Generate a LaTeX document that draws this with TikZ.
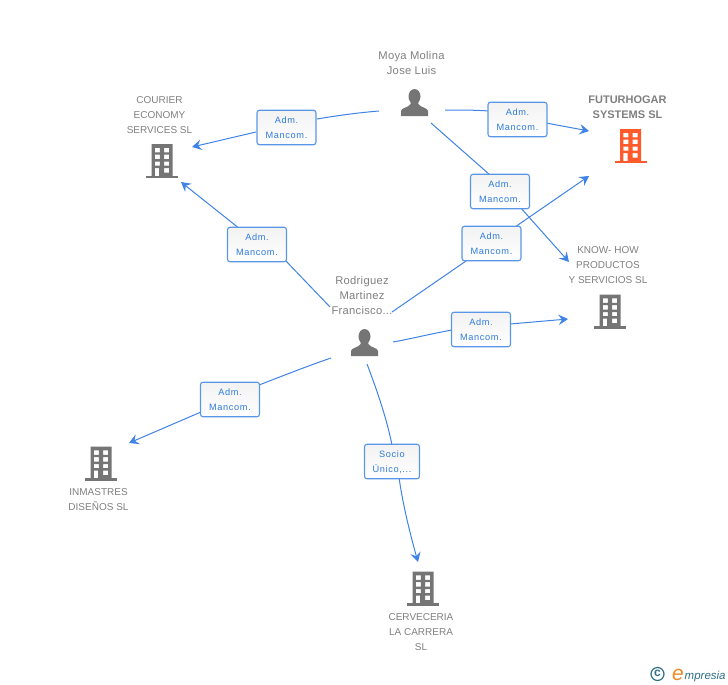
\documentclass[tikz,border=0pt]{standalone}
\usepackage{fontspec}
\setmainfont{Liberation Sans}
\usetikzlibrary{arrows.meta}
\definecolor{edgeblue}{HTML}{3F83E6}
\definecolor{boxblue}{HTML}{5A96E8}
\definecolor{labelblue}{HTML}{2F7BDD}
\definecolor{icongray}{HTML}{757575}
\definecolor{textgray}{HTML}{808080}
\definecolor{hogar}{HTML}{FF5A2B}
\definecolor{logoteal}{HTML}{2F6F86}
\definecolor{logoorange}{HTML}{F08A24}
\tikzset{
  x=1pt,y=-1pt,
  conn/.style={draw=edgeblue,line width=1pt},
  arrowconn/.style={conn,-{Stealth[length=9.5pt,width=10.5pt,inset=3.5pt]}},
  relbox/.style={draw=boxblue,line width=1.1pt,rounded corners=2.5pt,top color=black!5,bottom color=white,minimum width=59pt,minimum height=34.5pt,inner sep=0pt,align=center,text=labelblue,font=\fontsize{9.2}{15}\selectfont\addfontfeatures{LetterSpace=7}},
  nametext/.style={align=center,text=textgray,font=\fontsize{10}{15}\selectfont},
  persontext/.style={align=center,text=textgray,font=\fontsize{11.2}{15}\selectfont\addfontfeatures{LetterSpace=2.5}},
  hogarname/.style={align=center,text=textgray,font=\fontsize{11}{15}\selectfont\bfseries},
  pics/bldg/.style={code={
    \fill[#1,even odd rule] (-10.5,-16) rectangle (10.5,16)
      (-7.2,-12.2) rectangle (-2.2,-7.7) (2.2,-12.2) rectangle (7.2,-7.7)
      (-7.2,-5.3) rectangle (-2.2,-1) (2.2,-5.3) rectangle (7.2,-1)
      (-7.2,1.5) rectangle (-2.2,5.7) (2.2,1.5) rectangle (7.2,5.7)
      (-7.2,8) rectangle (-3,16) (2.2,8) rectangle (7.2,12.5);
    \fill[#1] (-16,15.5) rectangle (16,18);
  }},
  pics/person/.style={code={
    \fill[icongray] (0,-6) ellipse (6 and 7.5);
    \fill[icongray] (-13.5,13.5) -- (-13.5,8.5) .. controls (-13.5,5.5) and (-6,5) .. (-3.8,1.5)
      -- (-3.8,-3) -- (3.8,-3) -- (3.8,1.5) .. controls (6,5) and (13.5,5.5) .. (13.5,8.5) -- (13.5,13.5) -- cycle;
  }}
}
\begin{document}
\begin{tikzpicture}
\useasboundingbox (0,0) rectangle (728,685);
% free ends of the connectors
\coordinate (mCo) at (379,111); \coordinate (mFu) at (445,110); \coordinate (mKn) at (431,123);
\coordinate (rCo) at (330,307); \coordinate (rFu) at (392,312); \coordinate (rKn) at (393,342);
\coordinate (rIn) at (331,358); \coordinate (rCe) at (367,364);
\coordinate (tCo1) at (192,147); \coordinate (tCo2) at (181,182);
\coordinate (tFu1) at (589,131); \coordinate (tFu2) at (589,176);
\coordinate (tKn1) at (569,262); \coordinate (tKn2) at (568,319);
\coordinate (tIn) at (129,443); \coordinate (tCe) at (418,562);
% ends hidden behind the relation boxes
\coordinate (i1) at (317,119); \coordinate (o1) at (256,132);
\coordinate (i2) at (489,111); \coordinate (o2) at (546,123);
\coordinate (i3) at (490,175); \coordinate (o3) at (520,207);
\coordinate (i4) at (285,260); \coordinate (o4) at (240,229);
\coordinate (i5) at (466,261); \coordinate (o5) at (515,227);
\coordinate (i6) at (452,330); \coordinate (o6) at (510,324);
\coordinate (i7) at (259,385); \coordinate (o7) at (201,412);
\coordinate (i8) at (392,445); \coordinate (o8) at (399,477);
\draw[conn] (mCo) .. controls (355,113) and (335,116) .. (i1);
\draw[arrowconn] (o1) -- (tCo1);
\draw[conn] (mFu) .. controls (460,110) and (475,110) .. (i2);
\draw[arrowconn] (o2) -- (tFu1);
\draw[conn] (mKn) -- (i3);
\draw[arrowconn] (o3) -- (tKn1);
\draw[conn] (rCo) -- (i4);
\draw[arrowconn] (o4) -- (tCo2);
\draw[conn] (rFu) -- (i5);
\draw[arrowconn] (o5) -- (tFu2);
\draw[conn] (rKn) .. controls (410,339) and (430,334) .. (i6);
\draw[arrowconn] (o6) -- (tKn2);
\draw[conn] (rIn) .. controls (305,367) and (285,375) .. (i7);
\draw[arrowconn] (o7) -- (tIn);
\draw[conn] (rCe) .. controls (378,393) and (387,420) .. (i8);
\draw[arrowconn] (o8) .. controls (402,500) and (409,530) .. (tCe);
% relation boxes
\node[relbox] (b1) at (286.5,127.5) {\strut Adm.\\\strut Mancom.};
\node[relbox] (b2) at (517.5,119.5) {\strut Adm.\\\strut Mancom.};
\node[relbox] (b3) at (500,191.5) {\strut Adm.\\\strut Mancom.};
\node[relbox] (b4) at (257,244.5) {\strut Adm.\\\strut Mancom.};
\node[relbox] (b5) at (491.5,243.5) {\strut Adm.\\\strut Mancom.};
\node[relbox] (b6) at (481,329.5) {\strut Adm.\\\strut Mancom.};
\node[relbox] (b7) at (230,399.5) {\strut Adm.\\\strut Mancom.};
\node[relbox,minimum width=55pt] (b8) at (392,461.5) {\strut Socio\\\strut Único,...};
% people
\pic at (414.5,102.5) {person};
\pic at (364.5,342.5) {person};
\node[persontext] (moya) at (411.5,62.5) {Moya Molina\\Jose Luis};
\node[persontext] (rodr) at (362,295) {Rodriguez\\Martinez\\Francisco...};
% companies
\pic at (630.5,145) {bldg=hogar};
\pic at (162,160) {bldg=icongray};
\pic at (610,310.5) {bldg=icongray};
\pic at (101,462.5) {bldg=icongray};
\pic at (423,587.5) {bldg=icongray};
\node[hogarname] (fu) at (627.5,107) {FUTURHOGAR\\SYSTEMS SL};
\node[nametext] (co) at (159.5,115.5) {COURIER\\ECONOMY\\SERVICES SL};
\node[nametext] (kn) at (608,265) {KNOW- HOW\\PRODUCTOS\\Y SERVICIOS SL};
\node[nametext] (in) at (98.5,499.5) {INMASTRES\\DISEÑOS SL};
\node[nametext] (ce) at (421,632.5) {CERVECERIA\\LA CARRERA\\SL};
% logo
\node[circle,draw=logoteal,line width=1.2pt,inner sep=0pt,minimum size=13pt,text=logoteal,font=\fontsize{12}{12}\selectfont\bfseries] (copy) at (657.5,674) {\raisebox{0.6pt}{c}};
\node[anchor=base west,inner sep=0pt,text=logoorange,font=\fontsize{21}{21}\selectfont\itshape] (loge) at (672,680) {e};
\node[anchor=base west,inner sep=0pt,text=logoteal,font=\fontsize{11.5}{12}\selectfont\itshape] (logt) at (684.5,679) {mpresia};
\end{tikzpicture}
\end{document}
